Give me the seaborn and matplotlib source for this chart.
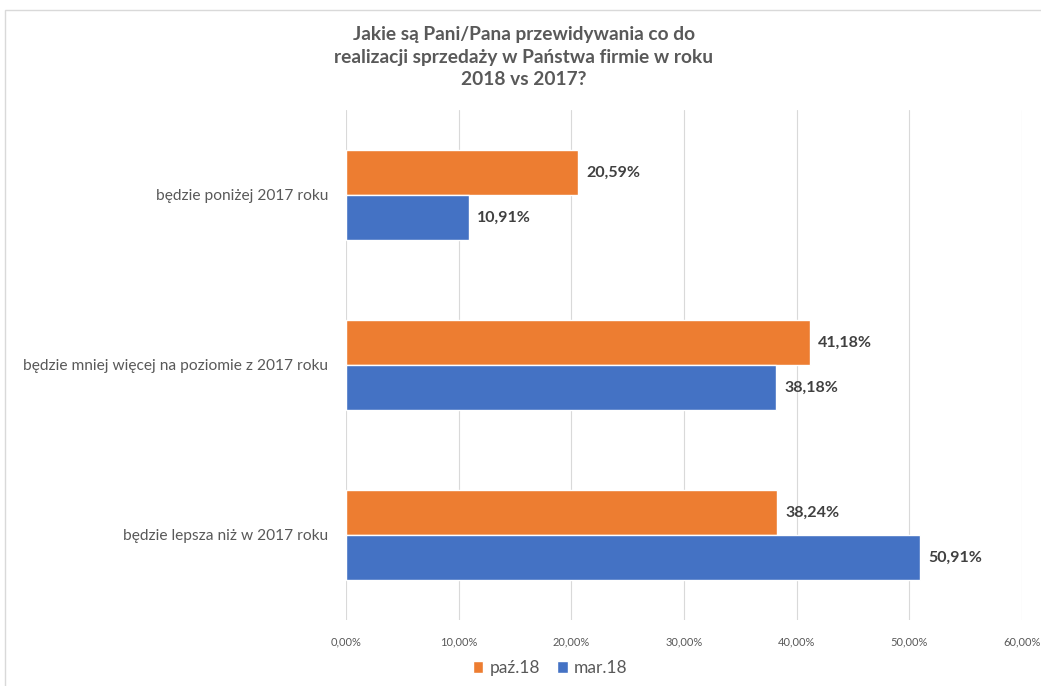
import numpy as np
import pandas as pd
import matplotlib.pyplot as plt
import seaborn as sns
from matplotlib.patches import Rectangle

categories = ["będzie poniżej 2017 roku",
              "będzie mniej więcej na poziomie z 2017 roku",
              "będzie lepsza niż w 2017 roku"]
paz18 = [20.59, 41.18, 38.24]
mar18 = [10.91, 38.18, 50.91]
series = ["paź.18", "mar.18"]
xticks = [0, 10, 20, 30, 40, 50, 60]

df = pd.DataFrame({
    "kategoria": categories * 2,
    "seria": [series[0]] * 3 + [series[1]] * 3,
    "wartosc": paz18 + mar18,
})

sns.set_style("white")
plt.rcParams['font.family'] = ['Lato', 'DejaVu Sans']

fig = plt.figure(figsize=(10.41, 6.86), dpi=100)
ax = fig.add_axes([0.3324, 0.0962, 0.6493, 0.7435])

sns.barplot(data=df, y="kategoria", x="wartosc", hue="seria", hue_order=series,
            order=categories, orient="h", palette=["#ED7D31", "#4472C4"],
            width=0.53, saturation=1, ax=ax, legend=True)

for cont in ax.containers:
    ax.bar_label(cont, labels=[f"{v:.2f}%".replace(".", ",") for v in cont.datavalues],
                 padding=6, fontsize=11.5, fontweight="bold", color="#404040")

ax.set_xlim(0, 60)
ax.set_xticks(xticks)
ax.set_xticklabels([f"{t:.2f}%".replace(".", ",") for t in xticks], fontsize=8, color="#595959")
ax.tick_params(axis="y", labelsize=11.2, labelcolor="#595959", length=0, pad=13)
ax.tick_params(axis="x", length=0, pad=12)
ax.set_xlabel("")
ax.set_ylabel("")
ax.grid(axis="x", color="#D9D9D9", linewidth=0.8)
ax.set_axisbelow(True)
for s in ax.spines.values():
    s.set_visible(False)

# legend centred around x ~ 550 px
ax.legend(loc="lower center", bbox_to_anchor=((550 / 1041 - 0.3324) / 0.6493, -0.14),
          ncol=2, frameon=False, fontsize=12.5, handlelength=0.6, handleheight=0.7,
          handletextpad=0.35, columnspacing=1.0, labelcolor="#595959")

fig.text(0.503, 0.962, "Jakie są Pani/Pana przewidywania co do\nrealizacji sprzedaży w Państwa firmie w roku\n2018 vs 2017?",
         ha="center", va="top", fontsize=13.8, fontweight="bold", color="#595959", linespacing=1.4)

fig.patches.append(Rectangle((5 / 1041, -0.01), 1.1, 1 - 10 / 686 + 0.01, transform=fig.transFigure,
                             fill=False, edgecolor="#D9D9D9", linewidth=1))

fig.savefig("out.png", dpi=100)
